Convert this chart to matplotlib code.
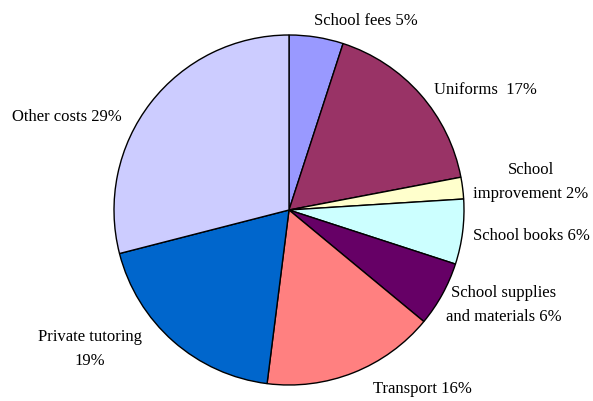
import matplotlib
matplotlib.use("Agg")
import matplotlib.pyplot as plt

# share of schooling costs by item
categories = ["School fees", "Uniforms", "School improvement", "School books",
              "School supplies and materials", "Transport", "Private tutoring", "Other costs"]
shares = [5, 17, 2, 6, 6, 16, 19, 29]
label_text = ["School fees 5%", "Uniforms  17%", "School\nimprovement 2%", "School books 6%",
              "School supplies\nand materials 6%", "Transport 16%", "Private tutoring\n19%",
              "Other costs 29%"]
colors = ["#9999FF", "#993366", "#FFFFCC", "#CCFFFF", "#660066", "#FF8080", "#0066CC", "#CCCCFF"]

# where each label sits, in pixels from the top-left corner
label_px = [(366, 21), (485, 90), (531, 182), (531, 236),
            (504, 305), (422, 389), (90, 349), (67, 117)]

W, H = 593, 401
cx, cy, r = 289, 210, 175

plt.rcParams["font.family"] = ["Liberation Serif", "DejaVu Serif"]

fig = plt.figure(figsize=(W / 100, H / 100), dpi=100)
ax = fig.add_axes([0, 0, 1, 1])

ax.pie(shares, colors=colors, startangle=90, counterclock=False,
       wedgeprops=dict(edgecolor="black", linewidth=1.0))

for txt, (px, py) in zip(label_text, label_px):
    ax.text((px - cx) / r, (cy - py) / r, txt, ha="center", va="center",
            fontsize=12, linespacing=1.65)

ax.set_xlim(-cx / r, (W - cx) / r)
ax.set_ylim(-(H - cy) / r, cy / r)
ax.set_aspect("equal")
ax.axis("off")

fig.savefig("out.png", dpi=100)
